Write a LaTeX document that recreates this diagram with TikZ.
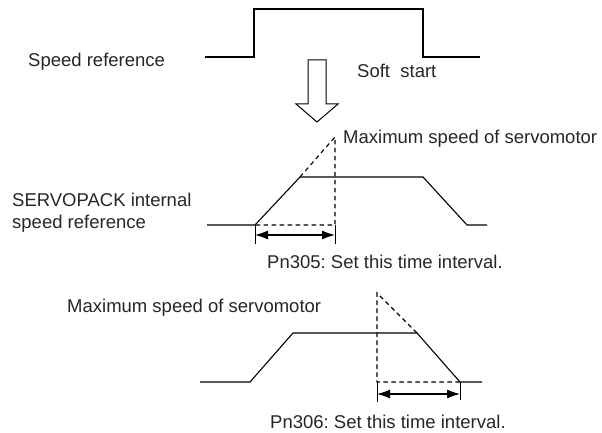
\documentclass[tikz,border=0pt]{standalone}
\usepackage{fontspec}
\setmainfont{Liberation Sans}
\usetikzlibrary{arrows.meta}
\frenchspacing

\begin{document}
\begin{tikzpicture}[
  x=1pt,
  y=-1pt,
  font=\fontsize{18.5}{22}\selectfont,
  lbl/.style={inner sep=0pt, anchor=base west, text=black!85},
  wave/.style={line width=1.1pt, line join=miter},
  guide/.style={line width=1.1pt, dash pattern=on 4.5pt off 3.5pt},
  tick/.style={line width=1pt},
  span/.style={{Latex[length=13pt,width=9pt]}-{Latex[length=13pt,width=9pt]}, line width=1.1pt}
]
  \useasboundingbox (0,0) rectangle (602,433);

  % speed reference
  \node[lbl] (spdref) at (28,67) {Speed reference};
  \draw[wave] (205,57) -- (254,57) -- (254,9) -- (423,9) -- (423,57) -- (480,57);
  \node[lbl] (soft) at (357,78) {Soft\ \ start};
  \draw[line width=1pt] (308,60) -- (326,60) -- (326,104) -- (338,104) -- (317,122)
    -- (296,104) -- (308,104) -- cycle;

  % soft start, acceleration
  \node[lbl] (servo) at (12,206) {SERVOPACK internal};
  \node[lbl] (servo2) at (12,228) {speed reference};
  \node[lbl] (max1) at (343,143) {Maximum speed of servomotor};
  \coordinate (a0) at (255,225);
  \coordinate (a1) at (335,225);
  \coordinate (atop) at (335,137);
  \draw[wave] (207,225) -- (a0) -- (300,177) -- (423,177) -- (467,225) -- (487,225);
  \draw[guide] (300,177) -- (atop) -- (a1) -- (a0);
  \draw[tick] (a0) -- (255,244);
  \draw[tick] (a1) -- (335,244);
  \draw[span] (255,235) -- (335,235);
  \node[lbl] (pn305) at (267,268) {Pn305: Set this time interval.};

  % soft start, deceleration
  \node[lbl] (max2) at (67,312) {Maximum speed of servomotor};
  \coordinate (d0) at (377,382);
  \coordinate (d1) at (460,382);
  \coordinate (dtop) at (377,293);
  \draw[wave] (200,382) -- (250,382) -- (293,333) -- (417,333) -- (d1) -- (482,382);
  \draw[guide] (417,333) -- (dtop) -- (d0) -- (d1);
  \draw[tick] (d0) -- (377,402);
  \draw[tick] (d1) -- (460,400);
  \draw[span] (377,394) -- (460,394);
  \node[lbl] (pn306) at (270,428) {Pn306: Set this time interval.};
\end{tikzpicture}
\end{document}
